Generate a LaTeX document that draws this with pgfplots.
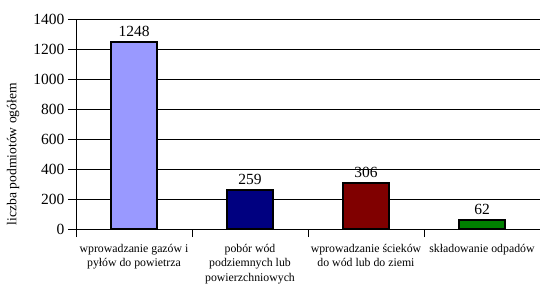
\documentclass[border=0pt]{standalone}
\usepackage{pgfplots}
\pgfplotsset{compat=1.18}
\usepackage{fontspec}
\setmainfont{Liberation Serif}
\definecolor{cA}{HTML}{9999FF}
\definecolor{cB}{HTML}{000080}
\definecolor{cC}{HTML}{800000}
\definecolor{cD}{HTML}{008000}
\begin{document}
\begin{tikzpicture}
\begin{axis}[
  at={(76pt,55pt)}, anchor=south west,
  scale only axis, width=464pt, height=210pt,
  xmin=-0.5, xmax=3.5, ymin=0, ymax=1400,
  ytick={0,200,...,1400},
  xtick={-0.5,0.5,1.5,2.5,3.5},
  x tick label as interval,
  xticklabels={{wprowadzanie gazów i\\pyłów do powietrza},{pobór wód\\podziemnych lub\\powierzchniowych},{wprowadzanie ścieków\\do wód lub do ziemi},{składowanie odpadów}},
  axis x line*=bottom, axis y line*=left,
  ymajorgrids, grid style={black, line width=0.8pt},
  major tick length=8pt, tick align=outside,
  tick style={black, line width=0.8pt},
  xtick style={shorten >=4pt},
  axis line style={black, line width=0.8pt},
  ybar, bar width=0.4, bar shift=0pt,
  /pgf/number format/assume math mode=true,
  /pgf/number format/1000 sep={},
  yticklabel style={font=\fontsize{15.5}{18}\selectfont},
  xticklabel style={font=\fontsize{11.8}{14.5}\selectfont, align=center, anchor=north, inner sep=1pt, yshift=-6pt},
  ylabel={liczba podmiotów ogółem},
  ylabel style={font=\fontsize{13.6}{15}\selectfont, at={(rel axis cs:-0.1355,0.357)}, anchor=center, rotate=0},
  nodes near coords,
  nodes near coords style={font=\fontsize{15.5}{18}\selectfont, inner sep=2pt, anchor=south, yshift=2.5pt},
  every axis plot/.append style={draw=black, line width=1.6pt},
]
\addplot[fill=cA] coordinates {(0,1248)};
\addplot[fill=cB] coordinates {(1,259)};
\addplot[fill=cC] coordinates {(2,306)};
\addplot[fill=cD] coordinates {(3,62)};
\end{axis}
\pgfresetboundingbox
\path (0,0) rectangle (540pt,284pt);
\end{tikzpicture}
\end{document}
